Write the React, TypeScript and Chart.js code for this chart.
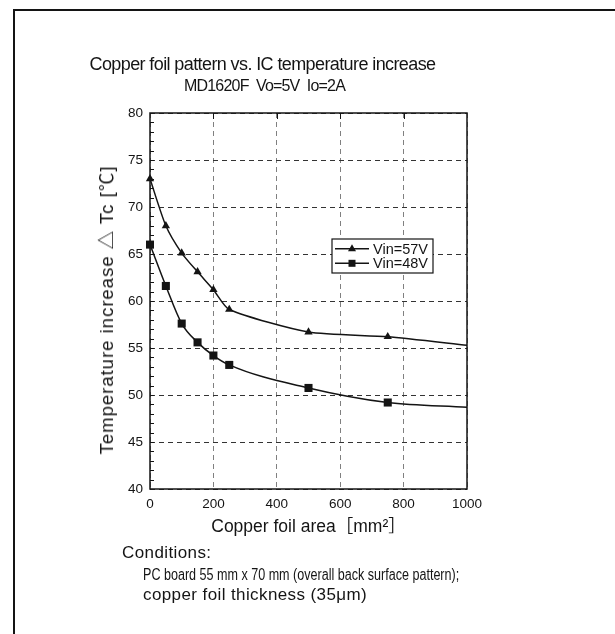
import React, { useEffect, useRef } from 'react';
import { Chart, registerables } from 'chart.js';

Chart.register(...registerables);

// ---- data ----
const areas = [0, 50, 100, 150, 200, 250, 500, 750, 1000];
const vin57 = [73, 68, 65.1, 63.1, 61.2, 59.1, 56.7, 56.2, 55.3];
const vin48 = [66, 61.6, 57.6, 55.6, 54.2, 53.2, 50.75, 49.2, 48.7];
const markerShown = [true, true, true, true, true, true, true, true, false];
const seriesLabels = ['Vin=57V', 'Vin=48V'];
const seriesMarkers = ['triangle', 'rect'];

const titleText = 'Copper foil pattern vs. IC temperature increase';
const subtitleText = 'MD1620F\u00a0\u00a0Vo=5V\u00a0\u00a0Io=2A';
const xAxisTitle = 'Copper foil area［mm²］';
const yAxisTitle = 'Temperature increase △ Tc [℃]';
const conditionsHead = 'Conditions:';
const conditionsLine1 = 'PC board 55 mm x 70 mm (overall back surface pattern);';
const conditionsLine2 = 'copper foil thickness (35μm)';

const X_MIN = 0, X_MAX = 1000, X_STEP = 200;
const Y_MIN = 40, Y_MAX = 80, Y_STEP = 5, Y_MINOR = 1;

const FONT = "'Liberation Sans', Arial, 'Noto Sans CJK JP', sans-serif";
const INK = '#141414';

const framePlugin = {
  id: 'frameAndLegend',
  afterDatasetsDraw(chart: any) {
    const { ctx, chartArea: a, scales } = chart;
    const xs = scales.x, ys = scales.y;
    ctx.save();
    // minor ticks on left axis (inward)
    ctx.strokeStyle = INK;
    ctx.lineWidth = 1;
    ctx.beginPath();
    for (let v = Y_MIN + Y_MINOR; v < Y_MAX; v += Y_MINOR) {
      const py = Math.round(ys.getPixelForValue(v)) + 0.5;
      ctx.moveTo(a.left, py);
      ctx.lineTo(a.left + 4, py);
    }
    // top ticks (inward)
    for (let v = X_MIN + X_STEP; v < X_MAX; v += X_STEP) {
      const px = Math.round(xs.getPixelForValue(v)) + 0.5;
      ctx.moveTo(px, a.top);
      ctx.lineTo(px, a.top + 6);
    }
    ctx.stroke();
    // frame
    ctx.lineWidth = 1.5;
    ctx.strokeStyle = INK;
    ctx.strokeRect(a.left, a.top, a.right - a.left, a.bottom - a.top);

    // legend box
    const lx = a.left + 182, ly = a.top + 126, lw = 101, lh = 34;
    ctx.fillStyle = '#fff';
    ctx.fillRect(lx, ly, lw, lh);
    ctx.lineWidth = 1.2;
    ctx.strokeRect(lx, ly, lw, lh);
    ctx.font = `14.5px ${FONT}`;
    ctx.textBaseline = 'alphabetic';
    ctx.textAlign = 'left';
    chart.data.datasets.forEach((ds: any, i: number) => {
      const cy = ly + 9.7 + i * 14.6;
      ctx.strokeStyle = INK;
      ctx.lineWidth = 1.5;
      ctx.beginPath();
      ctx.moveTo(lx + 3, cy);
      ctx.lineTo(lx + 37, cy);
      ctx.stroke();
      ctx.fillStyle = INK;
      const mx = lx + 20;
      if (ds.pointStyle === 'triangle') {
        ctx.beginPath();
        ctx.moveTo(mx, cy - 4.5);
        ctx.lineTo(mx + 4, cy + 2.5);
        ctx.lineTo(mx - 4, cy + 2.5);
        ctx.closePath();
        ctx.fill();
      } else {
        ctx.fillRect(mx - 3.5, cy - 3.5, 7, 7);
      }
      ctx.fillStyle = INK;
      ctx.fillText(ds.label, lx + 41, cy + 5);
    });
    ctx.restore();
  },
};

export default function App() {
  const ref = useRef<HTMLCanvasElement>(null);
  useEffect(() => {
    document.body.style.margin = '0';
    document.body.style.overflow = 'hidden';
    const canvas = ref.current!;
    const mk = (vals: number[], idx: number) => ({
      label: seriesLabels[idx],
      data: areas.map((x, i) => ({ x, y: vals[i] })),
      borderColor: INK,
      backgroundColor: INK,
      borderWidth: 1.5,
      pointStyle: seriesMarkers[idx],
      pointRadius: markerShown.map((s) => (s ? (idx === 0 ? 4.8 : 5.7) : 0)),
      pointBorderWidth: 0,
      pointBackgroundColor: INK,
      ...(idx === 0 ? { tension: 0.22 } : { cubicInterpolationMode: 'monotone' }),
      clip: false,
      fill: false,
    });
    const chart = new Chart(canvas, {
      type: 'line',
      data: { datasets: [mk(vin57, 0), mk(vin48, 1)] as any },
      options: {
        animation: false,
        responsive: false,
        devicePixelRatio: 1,
        layout: { padding: { top: 113, right: 148, bottom: 0, left: 0 } },
        plugins: { legend: { display: false }, tooltip: { enabled: false }, title: { display: false } },
        scales: {
          x: {
            type: 'linear',
            min: X_MIN,
            max: X_MAX,
            afterFit: (s: any) => { s.height = 56; },
            ticks: { stepSize: X_STEP, color: INK, font: { family: FONT, size: 13.5 }, padding: 7.5, callback: (v: any) => String(v) },
            grid: { color: '#808080', lineWidth: 1, drawTicks: false },
            border: { display: false, dash: [5, 4] },
            title: { display: true, text: xAxisTitle, color: INK, font: { family: FONT, size: 17.5 }, padding: { top: 0, bottom: 7.5 } },
          },
          y: {
            type: 'linear',
            min: Y_MIN,
            max: Y_MAX,
            afterFit: (s: any) => { s.width = 150; },
            ticks: { stepSize: Y_STEP, color: INK, font: { family: FONT, size: 13.5 }, padding: 7 },
            grid: { color: '#333', lineWidth: 1, drawTicks: false },
            border: { display: false, dash: [5, 4] },
            title: { display: false, text: yAxisTitle },
          },
        },
      },
      plugins: [framePlugin],
    } as any);
    return () => chart.destroy();
  }, []);

  const txt = (extra: React.CSSProperties): React.CSSProperties => ({
    position: 'absolute',
    whiteSpace: 'nowrap',
    color: INK,
    fontFamily: FONT,
    margin: 0,
    ...extra,
  });

  return (
    <div style={{ position: 'relative', width: 615, height: 634, overflow: 'hidden', background: '#fff' }}>
      <div style={{ position: 'absolute', left: 13, top: 9, width: 602, height: 625, borderTop: `2px solid ${INK}`, borderLeft: `2px solid ${INK}`, boxSizing: 'border-box' }} />
      <canvas ref={ref} width={615} height={545} style={{ position: 'absolute', left: 0, top: 0, display: 'block' }} />
      <div style={txt({ left: 0, width: 525, top: 52.5, fontSize: 18, lineHeight: '22px', textAlign: 'center', letterSpacing: '-0.6px' })}>{titleText}</div>
      <div style={txt({ left: 0, width: 529, top: 75.5, fontSize: 16, lineHeight: '20px', textAlign: 'center', letterSpacing: '-0.8px' })}>{subtitleText}</div>
      <div style={txt({ left: 106.5, top: 310, fontSize: 18.5, lineHeight: '20px', letterSpacing: '1px', transform: 'translate(-50%, -50%) rotate(-90deg)' })}>{yAxisTitle}</div>
      <div style={txt({ left: 122, top: 542.7, fontSize: 17, lineHeight: '20px', letterSpacing: '0.4px' })}>{conditionsHead}</div>
      <div style={txt({ left: 143, top: 565, fontSize: 16, lineHeight: '19px', transform: 'scaleX(0.785)', transformOrigin: 'left top' })}>{conditionsLine1}</div>
      <div style={txt({ left: 143, top: 585, fontSize: 17, lineHeight: '20px', letterSpacing: '0.4px' })}>{conditionsLine2}</div>
    </div>
  );
}
